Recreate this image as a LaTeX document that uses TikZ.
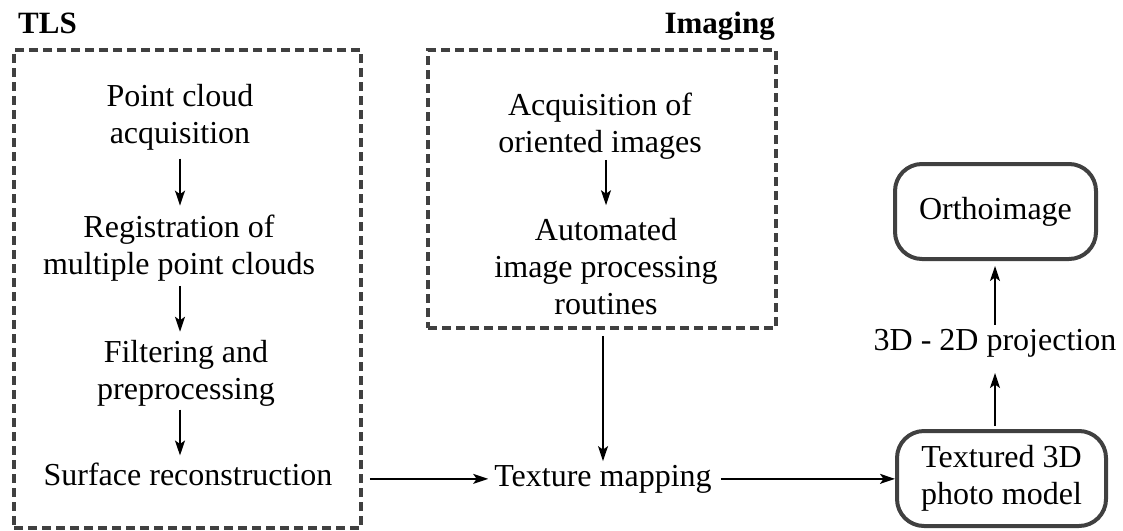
\documentclass[tikz,border=0pt]{standalone}
\usepackage{fontspec}
\setmainfont{Liberation Serif}
\usetikzlibrary{arrows.meta}
\definecolor{boxgray}{HTML}{404040}
\begin{document}
\begin{tikzpicture}[x=1pt,y=-1pt,
  txt/.style={font=\rmfamily\fontsize{32}{37}\selectfont, align=center, inner sep=0pt},
  ttl/.style={font=\rmfamily\fontsize{31}{36}\selectfont\bfseries, inner sep=0pt},
  dbox/.style={draw=boxgray, line width=3.6pt, dash pattern=on 9pt off 5pt, inner sep=0pt},
  rbox/.style={draw=boxgray, line width=4pt, rounded corners=27pt, inner sep=0pt, align=center, font=\rmfamily\fontsize{32}{37}\selectfont},
  arr/.style={line width=1.6pt, -{Stealth[length=15pt,width=10pt,inset=3.5pt]}}
]
\useasboundingbox (0,0) rectangle (1123,530);

% group labels
\node[ttl, anchor=base west] (tlsl) at (18,33) {TLS};
\node[ttl, anchor=base east] (imgl) at (775,33) {Imaging};

% dashed group boxes
\node[dbox, minimum width=347pt, minimum height=478pt] (tlsbox) at (187.5,289) {};
\node[dbox, minimum width=348pt, minimum height=278pt] (imgbox) at (602,189) {};

% TLS steps
\node[txt] (pc) at (180,117.5) {Point cloud\\acquisition};
\node[txt] (reg) at (179,248) {Registration of\\multiple point clouds};
\node[txt] (filt) at (186,373) {Filtering and\\preprocessing};
\node[txt, anchor=base] (surf) at (188,485) {Surface reconstruction};

% Imaging steps
\node[txt] (acq) at (600,126.5) {Acquisition of\\oriented images};
\node[txt] (auto) at (606,266.5) {Automated\\image processing\\routines};

% texture mapping and products
\node[txt, anchor=base] (tm) at (603,486) {Texture mapping};
\node[rbox, minimum width=209pt, minimum height=95pt] (tex) at (1001.5,478.5) {Textured 3D\\photo model};
\node[txt, anchor=base] (proj) at (995,350) {3D - 2D projection};
\node[rbox, minimum width=201pt, minimum height=95pt] (ortho) at (995.5,211.5) {Orthoimage};

% connectors
\draw[arr, shorten <=8pt, shorten >=9pt] (pc.south) -- (pc.south |- reg.north);
\draw[arr, shorten <=4.5pt, shorten >=8pt] (pc.south |- reg.south) -- (pc.south |- filt.north);
\draw[arr, shorten <=3.3pt, shorten >=6.8pt] (pc.south |- filt.south) -- (pc.south |- surf.north);
\draw[arr, shorten <=0pt, shorten >=12.8pt] (auto.north |- acq.south) -- (auto.north);
\draw[arr, shorten <=6pt, shorten >=3.5pt] (tm.north |- imgbox.south) -- (tm.north);
\draw[arr, shorten <=7pt, shorten >=6pt] (tlsbox.east |- tm.west) -- (tm.west);
\draw[arr, shorten <=9pt] (tm.east) -- (tex.west |- tm.east);
\draw[arr, shorten <=3pt, shorten >=16pt] (proj.south |- tex.north) -- (proj.south);
\draw[arr, shorten <=3.8pt, shorten >=5pt] (proj.north) -- (proj.north |- ortho.south);
\end{tikzpicture}
\end{document}
